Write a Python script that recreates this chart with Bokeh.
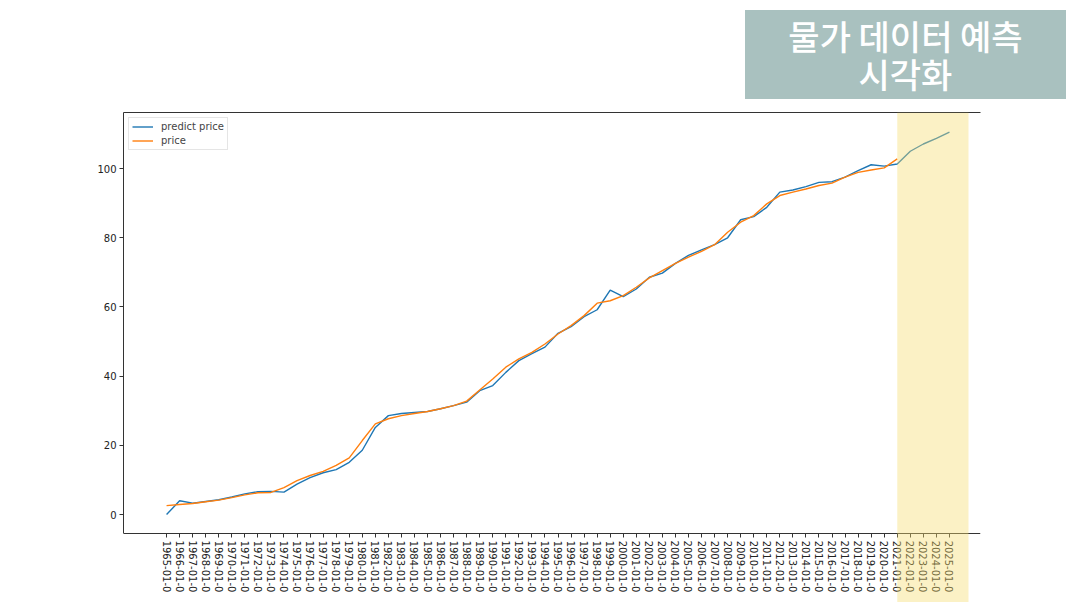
import math

from bokeh.plotting import figure
from bokeh.layouts import column
from bokeh.models import (BoxAnnotation, ColumnDataSource, Div, FixedTicker,
                          Legend, LegendItem, LinearAxis, Range1d)
from bokeh.embed import file_html
from bokeh.resources import INLINE

# yearly price index, 1965 .. 2021 observed, 1965 .. 2025 predicted
years = list(range(1965, 2026))
tick_labels = ["{}-01-0".format(y) for y in years]
y_ticks = [0, 20, 40, 60, 80, 100]

predict_price = [
    0.0, 4.0, 3.3, 3.8, 4.3, 5.1, 6.0, 6.6, 6.7, 6.5,
    8.8, 10.7, 12.1, 13.0, 15.1, 18.6, 25.2, 28.6, 29.2, 29.5,
    29.8, 30.6, 31.5, 32.5, 35.8, 37.3, 41.1, 44.5, 46.5, 48.4,
    52.4, 54.3, 57.2, 59.2, 64.9, 63.0, 65.2, 68.6, 69.8, 72.6,
    74.9, 76.5, 78.0, 80.0, 85.2, 86.1, 88.8, 93.2, 93.8, 94.8,
    96.0, 96.2, 97.5, 99.4, 101.1, 100.7, 101.3, 105.0, 107.1, 108.7,
    110.5,
]
price = [
    2.6, 2.9, 3.2, 3.7, 4.2, 4.9, 5.7, 6.3, 6.4, 7.8,
    9.8, 11.3, 12.5, 14.2, 16.4, 21.4, 26.2, 27.7, 28.6, 29.2,
    29.8, 30.6, 31.5, 32.8, 36.0, 39.2, 42.6, 45.0, 46.9, 49.3,
    52.2, 54.6, 57.5, 61.1, 61.8, 63.3, 65.7, 68.4, 70.5, 72.6,
    74.4, 76.1, 78.0, 81.6, 84.5, 86.4, 89.8, 92.2, 93.2, 94.1,
    95.1, 95.8, 97.5, 98.9, 99.6, 100.2, 102.8,
]
forecast_start = 2021
forecast_end = 2026.46

title_text = "물가 데이터 예측<br>시각화"

# data limits of the drawn axes (matplotlib-like margins)
x_lo, x_hi = 1961.7, 2027.38
y_lo, y_hi = -5.5, 116.2
y_page_bottom = -25.4  # the frame runs on under the date labels

predict_src = ColumnDataSource(dict(x=years, y=predict_price))
price_src = ColumnDataSource(dict(x=years[:len(price)], y=price))

title_div = Div(
    text=('<div style="margin-left:745px;margin-top:10px;width:321px;height:89px;'
          'background:#A9C1BF;color:#ffffff;font-family:\'Noto Sans CJK KR\';'
          'font-weight:500;font-size:34px;line-height:38px;display:flex;'
          'align-items:center;justify-content:center;text-align:center;">'
          + title_text + '</div>'),
    width=1080, height=100, margin=0)

p = figure(width=1080, height=502, output_backend="svg", toolbar_location=None,
           x_range=Range1d(x_lo, x_hi), y_range=Range1d(y_page_bottom, y_hi),
           min_border_left=123, min_border_right=100, min_border_top=12,
           min_border_bottom=0, x_axis_type=None, y_axis_type=None)
p.margin = 0
p.grid.visible = False
p.outline_line_color = None
p.background_fill_color = "white"
p.border_fill_color = "white"

axis_color = "#333333"
font = "DejaVu Sans"

xaxis = LinearAxis(ticker=FixedTicker(ticks=years), fixed_location=y_lo,
                   major_label_overrides={y: lab for y, lab in zip(years, tick_labels)})
xaxis.major_label_orientation = -math.pi / 2
yaxis = LinearAxis(ticker=FixedTicker(ticks=y_ticks), bounds=(y_lo, y_hi))
top_axis = LinearAxis(ticker=FixedTicker(ticks=[]))

for ax in (xaxis, yaxis, top_axis):
    ax.axis_line_color = axis_color
    ax.axis_line_width = 1
    ax.major_tick_line_color = axis_color
    ax.major_tick_out = 4
    ax.major_tick_in = 0
    ax.minor_tick_line_color = None
    ax.major_label_text_font = font
    ax.major_label_text_font_size = "10px"
    ax.major_label_text_color = "#222222"
    ax.major_label_standoff = 3
top_axis.major_tick_out = 0
top_axis.major_label_text_font_size = "0px"

p.add_layout(xaxis, "below")
p.add_layout(yaxis, "left")
p.add_layout(top_axis, "above")

r_pred = p.line("x", "y", source=predict_src, line_color="#1f77b4", line_width=1.4)
r_price = p.line("x", "y", source=price_src, line_color="#ff7f0e", line_width=1.4)

legend = Legend(items=[LegendItem(label="predict price", renderers=[r_pred]),
                       LegendItem(label="price", renderers=[r_price])],
                location="top_left", margin=5, padding=3, spacing=3,
                glyph_width=21, glyph_height=11, label_height=11,
                label_standoff=8, label_text_font=font,
                label_text_font_size="10px", border_line_color="#cccccc",
                border_line_width=1, background_fill_alpha=0.8)
p.add_layout(legend)

# forecast period highlight, laid over the chart and its date labels
shade = BoxAnnotation(left=forecast_start, right=forecast_end, top=y_hi,
                      bottom=y_page_bottom, fill_color="#F5DC6E", fill_alpha=0.4,
                      line_color=None, level="overlay")
p.add_layout(shade)

layout = column(title_div, p, spacing=0)
open("out.html", "w").write(file_html(layout, INLINE))
